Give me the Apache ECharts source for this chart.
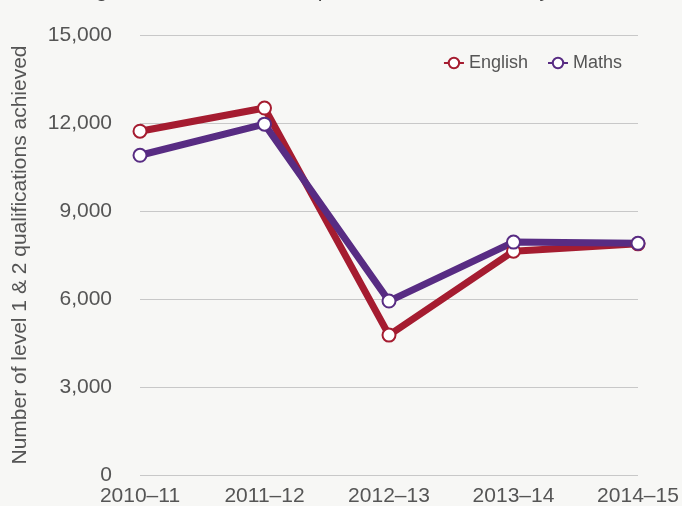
<!DOCTYPE html>
<html><head><meta charset="utf-8">
<style>html,body{margin:0;padding:0;background:#f7f7f5;}#c{width:682px;height:506px;}</style>
<script src="https://cdn.jsdelivr.net/npm/echarts@6/dist/echarts.min.js"></script>
</head><body><div id="c"></div>
<script>
var categories = ['2010–11', '2011–12', '2012–13', '2013–14', '2014–15'];
var english = [11720, 12510, 4770, 7630, 7880];
var maths = [10900, 11960, 5930, 7940, 7900];
var yTicks = [0, 3000, 6000, 9000, 12000, 15000];
var titleText = 'English and mathematics qualifications achieved by adults';

var chart = echarts.init(document.getElementById('c'));
var font = 'Liberation Sans, Arial, Helvetica, sans-serif';
function ser(name, data, color) {
  return {
    name: name, type: 'line', data: data,
    symbol: 'circle', symbolSize: 13,
    lineStyle: {width: 7, color: color},
    itemStyle: {color: '#ffffff', borderColor: color, borderWidth: 2},
    emphasis: {disabled: true}
  };
}
chart.setOption({
  backgroundColor: '#f7f7f5',
  animation: false,
  textStyle: {fontFamily: font},
  title: {text: titleText, left: 'center', top: -24,
    textStyle: {fontSize: 21, fontWeight: 'normal', color: '#444', fontFamily: font}},
  color: ['#a51c30', '#582c83'],
  legend: {
    right: 55, top: 49, itemGap: 19, itemWidth: 20, itemHeight: 13,
    textStyle: {fontSize: 18, color: '#555', fontFamily: font},
    data: ['English', 'Maths']
  },
  grid: {left: 140, right: 44, top: 35, bottom: 31, containLabel: false, outerBoundsMode: 'none'},
  xAxis: {
    type: 'category', data: categories, boundaryGap: false,
    axisLine: {show: false}, axisTick: {show: false},
    axisLabel: {fontSize: 21, color: '#555', margin: 11, fontFamily: font}
  },
  yAxis: {
    type: 'value', min: yTicks[0], max: yTicks[yTicks.length - 1], interval: 3000,
    name: 'Number of level 1 & 2 qualifications achieved',
    nameLocation: 'middle', nameGap: 109, nameRotate: 90,
    nameTextStyle: {fontSize: 21, color: '#555', fontFamily: font},
    axisLine: {show: false}, axisTick: {show: false},
    axisLabel: {fontSize: 21, color: '#555', margin: 28, fontFamily: font,
      formatter: function (v) { return v.toLocaleString('en-GB'); }},
    splitLine: {lineStyle: {color: '#c8c8c8', width: 1}}
  },
  series: [ser('English', english, '#a51c30'), ser('Maths', maths, '#582c83')]
});
</script></body></html>
